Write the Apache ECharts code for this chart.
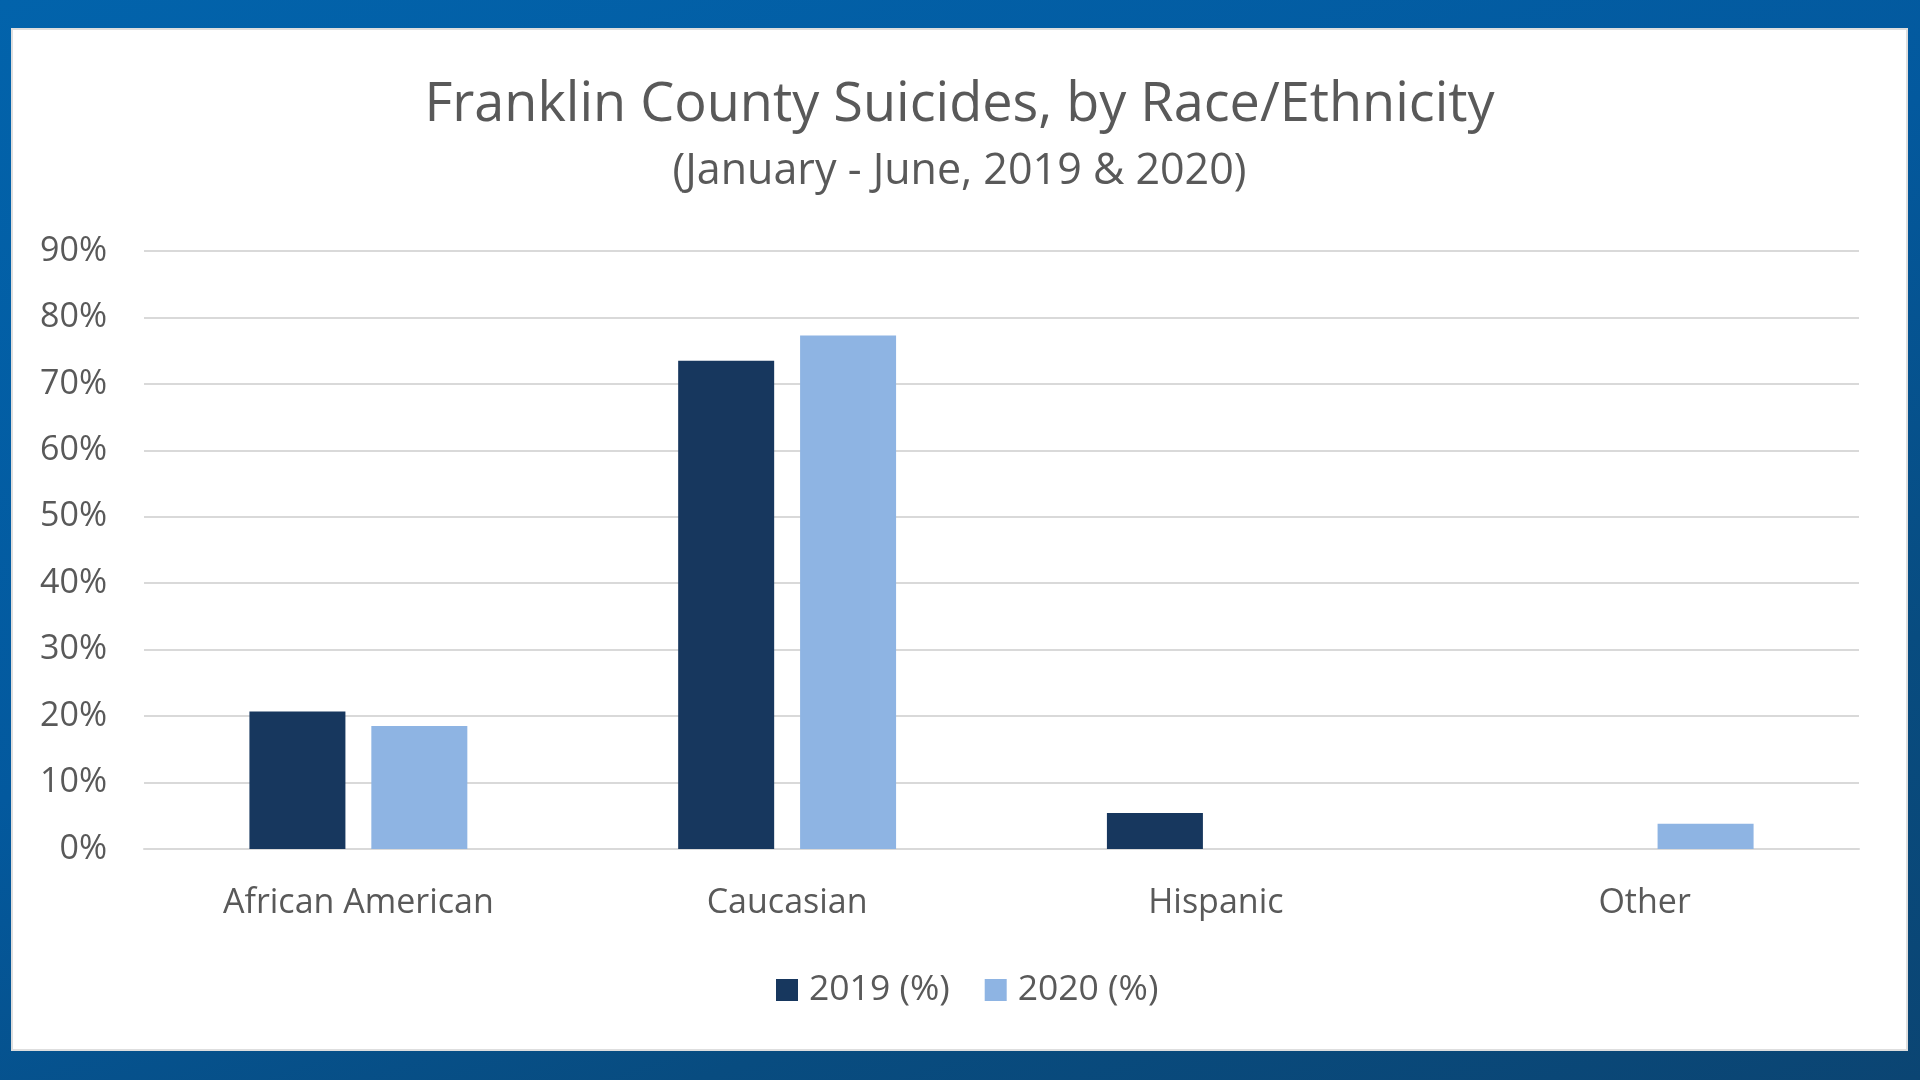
<!DOCTYPE html>
<html>
<head>
<meta charset="utf-8">
<script src="https://cdn.jsdelivr.net/npm/echarts@6/dist/echarts.min.js"></script>
<style>
  html, body { margin: 0; padding: 0; width: 1920px; height: 1080px; overflow: hidden; }
  body { background: linear-gradient(160deg, #0263ab 0%, #03599e 45%, #084c80 75%, #0b4573 100%); position: relative; }
  #panel { position: absolute; left: 11px; top: 28px; width: 1897px; height: 1023px; box-sizing: border-box;
           border: 2px solid #dedede; background: #ffffff; }
  #chart { width: 1893px; height: 1019px; }
</style>
</head>
<body>
<div id="panel"><div id="chart"></div></div>
<script>
const titleText = 'Franklin County Suicides, by Race/Ethnicity';
const subtitleText = '(January - June, 2019 & 2020)';
const categories = ['African American', 'Caucasian', 'Hispanic', 'Other'];
const seriesNames = ['2019 (%)', '2020 (%)'];
const values2019 = [20.7, 73.5, 5.4, null];
const values2020 = [18.5, 77.3, null, 3.8];
const yTicks = { min: 0, max: 90, interval: 10 };

const textColor = '#595959';
const font = 'Open Sans';

const chart = echarts.init(document.getElementById('chart'), null, { renderer: 'canvas' });
chart.setOption({
  animation: false,
  title: [
    { text: titleText, left: 'center', top: 44,
      textStyle: { fontFamily: font, fontSize: 54, fontWeight: 'normal', color: textColor } },
    { text: subtitleText, left: 'center', top: 115,
      textStyle: { fontFamily: font, fontSize: 43, fontWeight: 'normal', color: textColor } }
  ],
  legend: {
    data: seriesNames,
    left: 758, top: 937,
    icon: 'rect', itemWidth: 22, itemHeight: 22, itemGap: 35,
    textStyle: { fontFamily: font, fontSize: 35.5, color: textColor, padding: [0, 0, 0, 6] }
  },
  grid: { left: 131, right: 47, top: 221, bottom: 200, containLabel: false },
  xAxis: {
    type: 'category',
    data: categories,
    axisLine: { lineStyle: { color: '#d9d9d9', width: 2 } },
    axisTick: { show: false },
    axisLabel: { fontFamily: font, fontSize: 34, color: textColor, margin: 37 }
  },
  yAxis: {
    type: 'value',
    min: yTicks.min, max: yTicks.max, interval: yTicks.interval,
    axisLine: { show: false },
    axisTick: { show: false },
    axisLabel: { fontFamily: font, fontSize: 34, color: textColor, margin: 37, formatter: '{value}%' },
    splitLine: { lineStyle: { color: '#d9d9d9', width: 2 } }
  },
  series: [
    { name: seriesNames[0], type: 'bar', data: values2019, barWidth: 96, barGap: '27%',
      itemStyle: { color: '#17375e' } },
    { name: seriesNames[1], type: 'bar', data: values2020, barWidth: 96, barGap: '27%',
      itemStyle: { color: '#8eb4e3' } }
  ]
});
</script>
</body>
</html>
